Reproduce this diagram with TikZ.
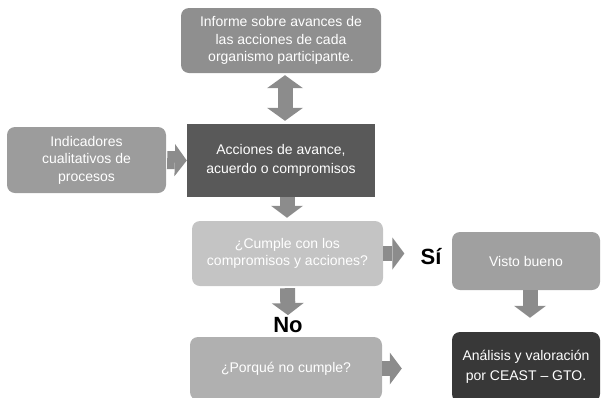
\documentclass[tikz,border=0pt]{standalone}
\usepackage{fontspec}
\setmainfont{Liberation Sans}
\usetikzlibrary{arrows.meta}
\definecolor{cTop}{HTML}{8F8F8F}
\definecolor{cLeft}{HTML}{9C9C9C}
\definecolor{cMain}{HTML}{595959}
\definecolor{cCumple}{HTML}{C4C4C4}
\definecolor{cVisto}{HTML}{A0A0A0}
\definecolor{cPorque}{HTML}{B0B0B0}
\definecolor{cAnal}{HTML}{383838}
\definecolor{cArrow}{HTML}{8C8C8C}
\tikzset{
  box/.style={rounded corners=8pt, text=white, align=center, inner sep=2pt,
    font=\fontsize{14}{17.5}\selectfont},
  fat/.style={draw=cArrow, line width=15pt,
    -{Triangle[width=32pt,length=12pt,line width=0pt]}},
  fatboth/.style={draw=cArrow, line width=15pt,
    {Triangle[width=36pt,length=13pt,line width=0pt]}-{Triangle[width=36pt,length=13pt,line width=0pt]}},
  yesno/.style={font=\fontsize{22}{22}\bfseries\selectfont, inner sep=0pt, text=black}
}
\begin{document}
\begin{tikzpicture}[x=1pt,y=-1pt]
\useasboundingbox (0,0) rectangle (605,397);
\clip (0,0) rectangle (605,397);
\node[box, fill=cTop, minimum width=200pt, minimum height=65pt] (top) at (281,40.5)
  {Informe sobre avances de\\las acciones de cada\\organismo participante.};
\node[box, fill=cLeft, minimum width=159pt, minimum height=66pt] (left) at (86.5,160)
  {Indicadores\\cualitativos de\\procesos};
\node[box, rounded corners=0pt, fill=cMain, minimum width=188pt, minimum height=73pt,
  font=\fontsize{14}{19.5}\selectfont] (main) at (281,160.5)
  {Acciones de avance,\\acuerdo o compromisos};
\node[box, fill=cCumple, minimum width=191pt, minimum height=65pt] (cumple) at (287.5,253.5)
  {¿Cumple con los\\compromisos y acciones?};
\node[box, fill=cVisto, minimum width=148pt, minimum height=58pt] (visto) at (526,261)
  {Visto bueno};
\node[box, fill=cPorque, minimum width=192pt, minimum height=63pt] (porque) at (286,368.5)
  {¿Porqué no cumple?};
\node[box, fill=cAnal, minimum width=148pt, minimum height=70pt,
  font=\fontsize{14}{20}\selectfont] (anal) at (526,367)
  {Análisis y valoración\\por CEAST – GTO.};
\node[yesno] (si) at (431,257) {Sí};
\node[yesno] (no) at (288,325) {No};
% connectors
\draw[fatboth, shorten <=2pt, shorten >=3pt] ([xshift=4pt]top.south) -- ([xshift=4pt]main.north);
\draw[fat, line width=18pt, shorten <=1pt] (left.east) -- (main.west);
\draw[fat, shorten >=3pt] ([xshift=6pt]main.south) -- ([xshift=6pt]main.south |- cumple.north);
\draw[fat, shorten >=16pt] (cumple.east) -- (cumple.east -| si.west);
\draw[fat, shorten <=2pt, shorten >=2pt] (cumple.south) -- (no.north);
\draw[fat, shorten >=14pt] ([xshift=4pt]visto.south) -- ([xshift=4pt]anal.north);
\draw[fat, shorten >=50pt] (porque.east) -- (porque.east -| anal.west);
\end{tikzpicture}
\end{document}
